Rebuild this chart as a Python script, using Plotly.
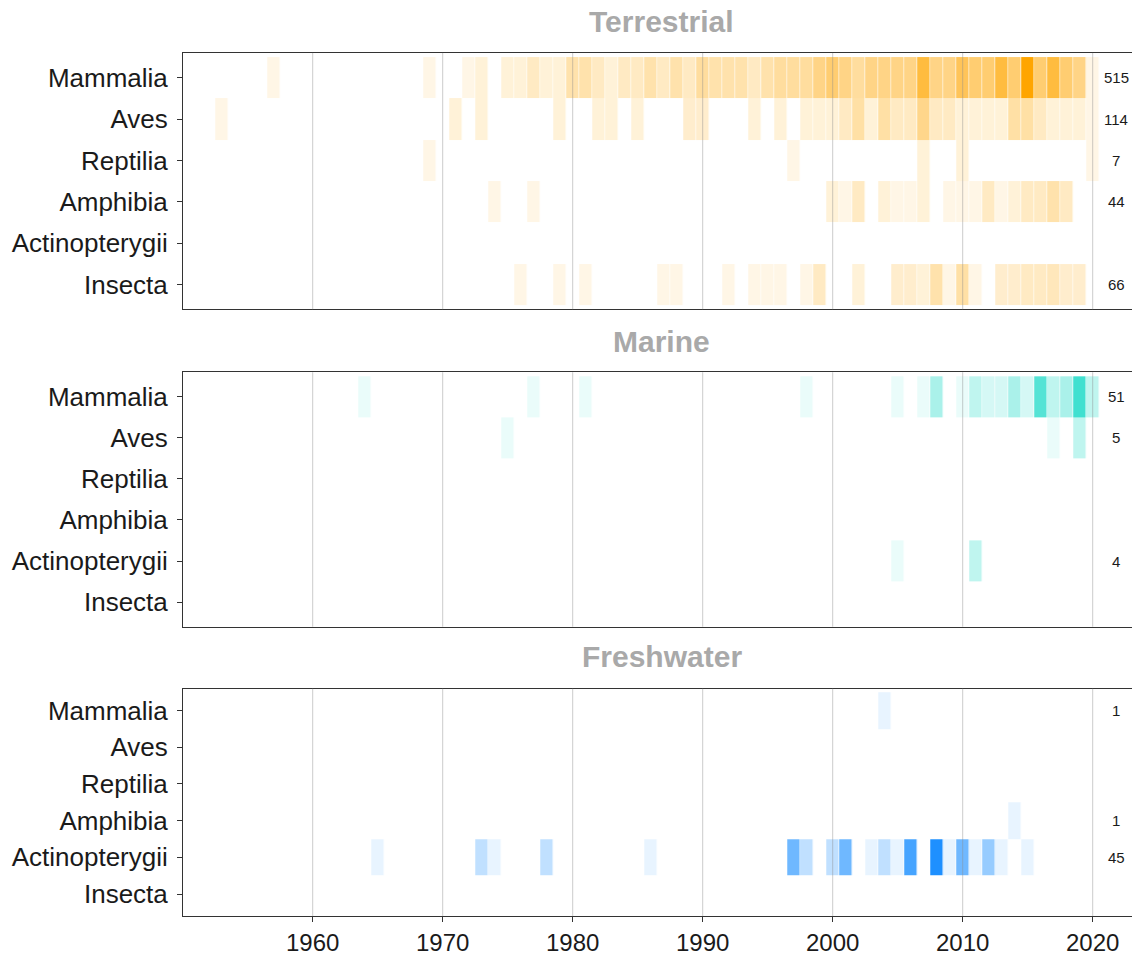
import numpy as np
import plotly.graph_objects as go

classes = ["Mammalia", "Aves", "Reptilia", "Amphibia", "Actinopterygii", "Insecta"]
realms = ["Terrestrial", "Marine", "Freshwater"]
year_start, year_end = 1950, 2023
tick_years = [1960, 1970, 1980, 1990, 2000, 2010, 2020]

# ---------------- Terrestrial ----------------
terr_mammalia_years = [1957, 1969, 1972, 1973, 1975, 1976, 1977, 1978, 1979, 1980, 1981, 1982, 1983,
                       1984, 1985, 1986, 1987, 1988, 1989, 1990, 1991, 1992, 1993, 1994, 1995, 1996,
                       1997, 1998, 1999, 2000, 2001, 2002, 2003, 2004, 2005, 2006, 2007, 2008, 2009,
                       2010, 2011, 2012, 2013, 2014, 2015, 2016, 2017, 2018, 2019, 2020]
terr_mammalia_counts = [1, 1, 1, 2, 2, 2, 4, 2, 2, 7, 7, 4, 2,
                        4, 4, 7, 4, 7, 4, 9, 7, 7, 7, 4, 7, 9,
                        9, 9, 13, 17, 13, 9, 13, 13, 13, 13, 28, 13, 13,
                        22, 17, 17, 28, 17, 45, 17, 28, 17, 13, 1]
terr_aves_years = [1953, 1971, 1973, 1979, 1982, 1983, 1985, 1989, 1990, 1994, 1996,
                   1998, 1999, 2000, 2001, 2002, 2003, 2004, 2005, 2006, 2007, 2008, 2009,
                   2010, 2011, 2012, 2013, 2014, 2015, 2016, 2017, 2018, 2019, 2020]
terr_aves_counts = [1, 2, 2, 2, 2, 2, 2, 3, 3, 2, 2,
                    2, 2, 2, 4, 8, 2, 8, 4, 4, 12, 4, 4,
                    2, 2, 2, 2, 8, 8, 4, 2, 2, 2, 1]
terr_reptilia_years = [1969, 1997, 2007, 2010, 2020]
terr_reptilia_counts = [1, 1, 2, 2, 1]
terr_amphibia_years = [1974, 1977, 2000, 2001, 2002, 2004, 2005, 2006, 2007, 2009, 2010,
                       2011, 2012, 2013, 2014, 2015, 2016, 2017, 2018]
terr_amphibia_counts = [1, 1, 2, 1, 4, 2, 1, 1, 2, 1, 1, 1, 4, 1, 2, 4, 4, 7, 4]
terr_insecta_years = [1976, 1979, 1981, 1987, 1988, 1992, 1994, 1995, 1996, 1998, 1999, 2002,
                      2005, 2006, 2007, 2008, 2009, 2010, 2011, 2013, 2014, 2015, 2016, 2017,
                      2018, 2019]
terr_insecta_counts = [1, 1, 1, 1, 1, 1, 1, 1, 1, 1, 4, 2, 3, 3, 2, 7, 1, 8, 1, 3, 3, 4, 4, 5, 3, 3]

# ---------------- Marine ----------------
mar_mammalia_years = [1964, 1977, 1981, 1998, 2005, 2007, 2008, 2010, 2011, 2012, 2013, 2014,
                      2015, 2016, 2017, 2018, 2019, 2020]
mar_mammalia_counts = [1, 1, 1, 1, 1, 1, 4, 1, 3, 2, 2, 4, 2, 8, 3, 4, 9, 3]
mar_aves_years = [1975, 2017, 2019]
mar_aves_counts = [1, 1, 3]
mar_actino_years = [2005, 2011]
mar_actino_counts = [1, 3]

# ---------------- Freshwater ----------------
fw_mammalia_years = [2004]
fw_mammalia_counts = [1]
fw_amphibia_years = [2014]
fw_amphibia_counts = [1]
fw_actino_years = [1965, 1973, 1974, 1978, 1986, 1997, 1998, 2000, 2001, 2003, 2004, 2005,
                   2006, 2008, 2009, 2010, 2011, 2012, 2013, 2015]
fw_actino_counts = [1, 2, 1, 2, 1, 4, 2, 2, 4, 1, 2, 1, 5, 6, 1, 4, 1, 3, 1, 1]

realm_data = {
    "Terrestrial": {
        "Mammalia": (terr_mammalia_years, terr_mammalia_counts),
        "Aves": (terr_aves_years, terr_aves_counts),
        "Reptilia": (terr_reptilia_years, terr_reptilia_counts),
        "Amphibia": (terr_amphibia_years, terr_amphibia_counts),
        "Insecta": (terr_insecta_years, terr_insecta_counts),
    },
    "Marine": {
        "Mammalia": (mar_mammalia_years, mar_mammalia_counts),
        "Aves": (mar_aves_years, mar_aves_counts),
        "Actinopterygii": (mar_actino_years, mar_actino_counts),
    },
    "Freshwater": {
        "Mammalia": (fw_mammalia_years, fw_mammalia_counts),
        "Amphibia": (fw_amphibia_years, fw_amphibia_counts),
        "Actinopterygii": (fw_actino_years, fw_actino_counts),
    },
}

# ---------------- styling ----------------
FONT = "Liberation Sans, Arial, sans-serif"
OFF = 8                      # page body margin
W, H = 1140 - OFF, 956 - OFF


def mix(c1, c2, t):
    return "rgb(%d,%d,%d)" % tuple(round(a + (b - a) * t) for a, b in zip(c1, c2))


white = (255, 255, 255)
orange = (255, 165, 0)
turq = (64, 224, 208)
dodger = (30, 144, 255)

# power ramp for terrestrial, linear ramps for the others
terr_scale = [[(k / 20) ** (1 / 0.6), mix(white, orange, k / 20)] for k in range(21)]
mar_scale = [[0, mix(white, turq, 0)], [1, mix(white, turq, 1)]]
fw_scale = [[0, mix(white, dodger, 0)], [1, mix(white, dodger, 1)]]
scales = {"Terrestrial": (terr_scale, 0), "Marine": (mar_scale, 0), "Freshwater": (fw_scale, 0.44)}

# panel pixel boxes in page coordinates (top, bottom)
panel_px = {"Terrestrial": (53, 310), "Marine": (373, 628), "Freshwater": (690, 918)}
title_px = {"Terrestrial": 22, "Marine": 342, "Freshwater": 658}
left_px = 183
px_per_year = 13.0
x_lo = 1960 - (312.7 - left_px) / px_per_year
x_hi = 1960 + (1140 - 312.7) / px_per_year

years = list(range(year_start, year_end + 1))
fig = go.Figure()
shapes = []
annotations = []

for i, realm in enumerate(realms):
    n = "" if i == 0 else str(i + 1)
    xa, ya = "x" + n, "y" + n
    data = realm_data[realm]
    z = np.full((len(classes), len(years)), np.nan)
    for ci, cl in enumerate(classes):
        if cl in data:
            yrs, cnts = data[cl]
            for yv, cv in zip(yrs, cnts):
                z[ci, years.index(yv)] = cv
    cs, zmin = scales[realm]
    zmax = np.nanmax(z)
    fig.add_trace(go.Heatmap(
        x=years, y=classes, z=z, colorscale=cs, zmin=zmin, zmax=zmax,
        showscale=False, xgap=0.6, hoverongaps=False,
        xaxis=xa, yaxis=ya,
    ))
    # totals
    for cl in classes:
        if cl in data:
            tot = int(sum(data[cl][1]))
            annotations.append(dict(
                x=2021.8, y=cl, xref=xa, yref=ya, text=str(tot), showarrow=False,
                font=dict(family=FONT, size=15, color="#1a1a1a"), xanchor="center", yanchor="middle"))
    # gridlines above tiles
    for ty in tick_years:
        shapes.append(dict(type="line", xref=xa, yref=ya + " domain", x0=ty, x1=ty, y0=0, y1=1,
                           line=dict(color="rgba(140,140,140,0.45)", width=1), layer="above"))
    top, bot = panel_px[realm]
    dom_y = [1 - (bot - OFF) / H, 1 - (top - OFF) / H]
    last = (i == len(realms) - 1)
    fig.layout["xaxis" + n] = dict(
        domain=[(left_px - OFF) / W, 1.0], range=[x_lo, x_hi], anchor=ya,
        tickvals=tick_years, showticklabels=last, ticks="outside" if last else "",
        ticklen=5, tickcolor="#333", showgrid=False, zeroline=False,
        showline=True, mirror=True, linecolor="#333", linewidth=1,
        tickfont=dict(family=FONT, size=24, color="#1a1a1a"),
    )
    fig.layout["yaxis" + n] = dict(
        domain=dom_y, anchor=xa, type="category", categoryorder="array", categoryarray=classes,
        range=[5.6, -0.6], ticks="outside", ticklen=5, tickcolor="#333", showgrid=False,
        zeroline=False, showline=True, mirror=False, linecolor="#333", linewidth=1,
        ticklabelstandoff=4,
        tickfont=dict(family=FONT, size=26, color="#1a1a1a"),
    )
    annotations.append(dict(
        x=(left_px - OFF + W) / 2 / W, y=1 - (title_px[realm] - OFF) / H, xref="paper", yref="paper",
        text="<b>%s</b>" % realm, showarrow=False, xanchor="center", yanchor="middle",
        font=dict(family=FONT, size=30, color="#a9a9a9")))

fig.update_layout(
    width=W, height=H, margin=dict(l=0, r=0, t=0, b=0),
    paper_bgcolor="white", plot_bgcolor="white",
    shapes=shapes, annotations=annotations, showlegend=False,
)
fig.write_html("out.html")
